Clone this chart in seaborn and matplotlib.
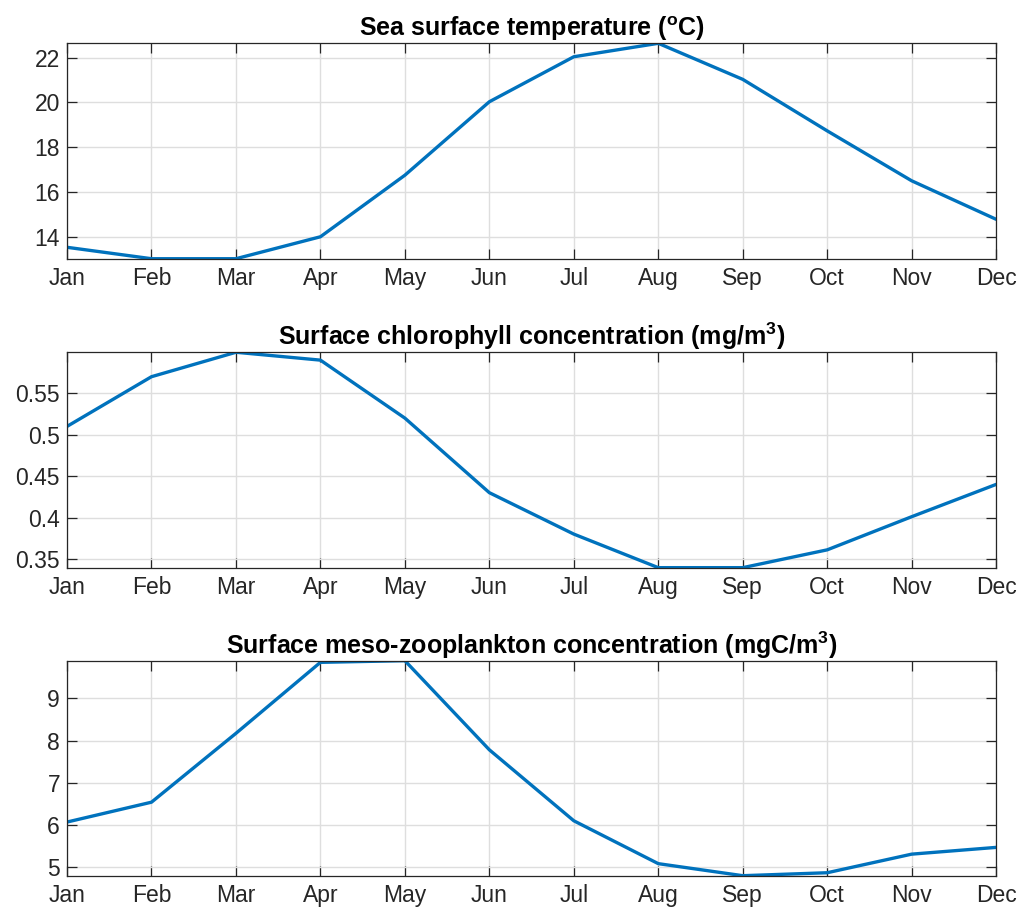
import numpy as np
import pandas as pd
import matplotlib
matplotlib.use("Agg")
import matplotlib.pyplot as plt
import seaborn as sns
from matplotlib.ticker import FixedLocator, FuncFormatter

months = ["Jan", "Feb", "Mar", "Apr", "May", "Jun", "Jul", "Aug", "Sep", "Oct", "Nov", "Dec"]
sst = [13.53, 13.02, 13.02, 14.0, 16.75, 20.03, 22.04, 22.64, 21.03, 18.73, 16.5, 14.78]
chl = [0.51, 0.57, 0.5995, 0.59, 0.52, 0.43, 0.38, 0.3395, 0.3395, 0.361, 0.401, 0.44]
zoo = [6.07, 6.54, 8.17, 9.85, 9.89, 7.78, 6.10, 5.085, 4.80, 4.87, 5.31, 5.47]

titles = [r"Sea surface temperature ($\mathbf{^{o}}$C)",
          r"Surface chlorophyll concentration (mg/m$\mathbf{^{3}}$)",
          r"Surface meso-zooplankton concentration (mgC/m$\mathbf{^{3}}$)"]
yticks = [[14, 16, 18, 20, 22],
          [0.35, 0.4, 0.45, 0.5, 0.55],
          [5, 6, 7, 8, 9]]
series = [sst, chl, zoo]

sns.set_theme(style="white")
plt.rcParams["font.family"] = ["Liberation Sans", "DejaVu Sans"]
plt.rcParams["mathtext.fontset"] = "custom"
plt.rcParams["mathtext.rm"] = "Liberation Sans"
plt.rcParams["mathtext.bf"] = "Liberation Sans:bold"

fig = plt.figure(figsize=(10.28, 9.10), dpi=100)
positions = [[0.0652, 0.7157, 0.9038, 0.2367],
             [0.0652, 0.3762, 0.9038, 0.2367],
             [0.0652, 0.0377, 0.9038, 0.2363]]

dark = "#262626"
for pos, vals, title, yt in zip(positions, series, titles, yticks):
    ax = fig.add_axes(pos)
    df = pd.DataFrame({"x": np.arange(len(months)), "y": vals})
    sns.lineplot(data=df, x="x", y="y", ax=ax, color="#0072BD", linewidth=2.4)
    ax.set_xlim(0, len(months) - 1)
    ax.set_ylim(min(vals), max(vals))
    ax.set_xticks(np.arange(len(months)))
    ax.set_xticklabels(months)
    ax.yaxis.set_major_locator(FixedLocator(yt))
    ax.yaxis.set_major_formatter(FuncFormatter(lambda v, p: f"{v:g}"))
    ax.set_xlabel("")
    ax.set_ylabel("")
    ax.grid(True, color="#dedede", linewidth=1.0)
    ax.set_axisbelow(True)
    ax.tick_params(direction="in", length=7, width=0.9, colors=dark,
                   labelsize=16.5, top=True, right=True, bottom=True, left=True,
                   labelcolor=dark)
    ax.tick_params(axis="x", pad=6)
    ax.tick_params(axis="y", pad=5)
    for s in ax.spines.values():
        s.set_color(dark)
        s.set_linewidth(0.9)
        s.set_visible(True)
    ax.set_title(title, fontsize=18, fontweight="bold", color="black", pad=5)

fig.savefig("out.png", dpi=100, facecolor="white")
